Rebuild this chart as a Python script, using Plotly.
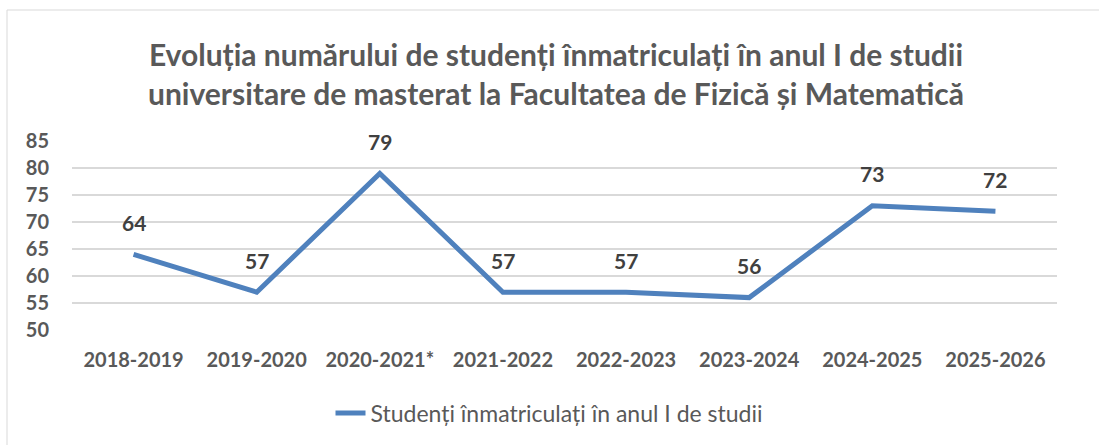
import plotly.graph_objects as go

categories = ["2018-2019", "2019-2020", "2020-2021*", "2021-2022",
              "2022-2023", "2023-2024", "2024-2025", "2025-2026"]
values = [64, 57, 79, 57, 57, 56, 73, 72]
series_name = "Studenți înmatriculați în anul I de studii"
title_text = ("Evoluția numărului de studenți înmatriculați în anul I de studii<br>"
              "universitare de masterat la Facultatea de Fizică și Matematică")
y_ticks = [50, 55, 60, 65, 70, 75, 80, 85]

FONT = "Lato"
LINE_COLOR = "#4F81BD"
TEXT_COLOR = "#595959"

W, H = 1099, 445
ML, MR, MT, MB = 72, 42, 141, 115
PW, PH = W - ML - MR, H - MT - MB

fig = go.Figure()
fig.add_trace(go.Scatter(
    x=categories, y=values, mode="lines", name=series_name,
    line=dict(color=LINE_COLOR, width=5),
    hoverinfo="skip",
))

for c, v in zip(categories, values):
    fig.add_annotation(x=c, y=v, text=str(v), showarrow=False,
                       yshift=32, yanchor="middle",
                       font=dict(family=FONT, size=21, color="#404040", weight="bold"))

def px_x(p):
    return (p - ML) / PW

def px_y(p):
    return (MT + PH - p) / PH

fig.add_shape(type="rect", xref="paper", yref="paper",
              x0=px_x(7), x1=px_x(1120), y0=px_y(470), y1=px_y(10),
              line=dict(color="#D9D9D9", width=1), fillcolor="rgba(0,0,0,0)",
              layer="below")

fig.update_layout(
    width=W, height=H,
    margin=dict(l=ML, r=MR, t=MT, b=MB, autoexpand=False),
    paper_bgcolor="white", plot_bgcolor="white",
    title=dict(text=title_text, x=556 / W, xanchor="center",
               xref="container", yref="container", y=1 - 66 / H, yanchor="middle",
               font=dict(family=FONT, size=30, color=TEXT_COLOR, weight="bold")),
    showlegend=True,
    legend=dict(orientation="h", xref="container", x=0.5, xanchor="center",
                yref="container", y=1 - 413 / H, yanchor="middle",
                font=dict(family=FONT, size=23, color=TEXT_COLOR)),
    xaxis=dict(type="category", range=[-0.5, len(categories) - 0.5],
               showgrid=False, showline=False, zeroline=False, ticks="",
               tickfont=dict(family=FONT, size=20, color=TEXT_COLOR, weight="bold"),
               ticklabelstandoff=16),
    yaxis=dict(range=[50, 85], tickvals=y_ticks, showgrid=True,
               gridcolor="#D9D9D9", gridwidth=1.5, zeroline=False, showline=False,
               ticks="", tickfont=dict(family=FONT, size=20, color=TEXT_COLOR, weight="bold"),
               ticklabelstandoff=22),
)

fig.write_html("out.html", config={"displayModeBar": False},
               post_script="document.body.style.margin='0';document.body.style.overflow='hidden';")
